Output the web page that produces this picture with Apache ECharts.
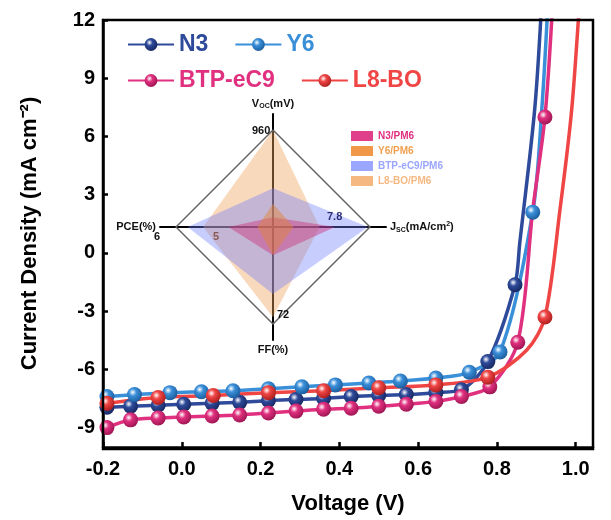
<!DOCTYPE html>
<html>
<head>
<meta charset="utf-8">
<script src="https://cdn.jsdelivr.net/npm/echarts@6/dist/echarts.min.js"></script>
<style>
  html, body { margin: 0; padding: 0; background: #fff; }
  #main { width: 611px; height: 520px; }
</style>
</head>
<body>
<div id="main"></div>
<script>
// J-V curves (V in volts, J in mA cm^-2)
// marked points
const n3V = [-0.19, -0.13, -0.06, 0.005, 0.077, 0.147, 0.22, 0.29, 0.36, 0.43, 0.50, 0.57, 0.645, 0.71, 0.777, 0.846];
const n3J = [-7.95, -7.9, -7.85, -7.8, -7.75, -7.7, -7.6, -7.55, -7.5, -7.4, -7.35, -7.3, -7.2, -7.05, -5.6, -1.64];
// points on the line without a marker
const n3LineV = [0.858, 0.896, 0.914];
const n3LineJ = [0.5, 7.4, 13];

const y6V = [-0.19, -0.12, -0.03, 0.05, 0.13, 0.22, 0.305, 0.39, 0.475, 0.555, 0.645, 0.73, 0.808, 0.891];
const y6J = [-7.4, -7.3, -7.2, -7.15, -7.1, -7.0, -6.9, -6.8, -6.7, -6.6, -6.45, -6.15, -5.1, 2.1];
const y6LineV = [0.914, 0.93];
const y6LineJ = [7.4, 13];

const ec9V = [-0.19, -0.13, -0.06, 0.005, 0.077, 0.147, 0.22, 0.29, 0.36, 0.43, 0.50, 0.57, 0.645, 0.71, 0.782, 0.853, 0.922];
const ec9J = [-9.0, -8.6, -8.5, -8.45, -8.4, -8.35, -8.25, -8.15, -8.05, -8.0, -7.9, -7.8, -7.65, -7.4, -6.9, -4.6, 7.0];
const ec9LineV = [0.891, 0.942];
const ec9LineJ = [2.2, 13];

const l8V = [-0.19, -0.06, 0.08, 0.22, 0.36, 0.50, 0.645, 0.777, 0.922];
const l8J = [-7.75, -7.45, -7.35, -7.2, -7.1, -6.95, -6.8, -6.4, -3.3];
const l8LineV = [0.876, 0.96, 0.99, 1.01];
const l8LineJ = [-5.0, 2.2, 7.4, 13];

const xTicks = [-0.2, 0.0, 0.2, 0.4, 0.6, 0.8, 1.0];
const yTicks = [-9, -6, -3, 0, 3, 6, 9, 12];

// radar inset, values as fraction of the outer diamond (Voc, PCE, FF, Jsc)
const radarNames = ['N3/PM6', 'Y6/PM6', 'BTP-eC9/PM6', 'L8-BO/PM6'];
const radarN3 = [0.10, 0.46, 0.29, 0.64];
const radarY6 = [0.24, 0.16, 0.29, 0.21];
const radarEC9 = [0.40, 0.88, 0.69, 0.98];
const radarL8 = [1.0, 0.72, 0.93, 0.48];
const radarFrame = [1, 1, 1, 1];

const FONT = 'Liberation Sans';

function ball(c, dark) {
  return {
    type: 'radial', x: 0.38, y: 0.35, r: 0.7,
    colorStops: [
      { offset: 0, color: '#ffffff' },
      { offset: 0.35, color: c },
      { offset: 1, color: dark }
    ]
  };
}

function points(vs, js, lv, lj) {
  const d = vs.map((v, i) => ({ value: [v, js[i]] }));
  lv.forEach((v, i) => d.push({ value: [v, lj[i]], symbol: 'none' }));
  d.sort((a, b) => a.value[0] - b.value[0]);
  return d;
}

function jvSeries(name, color, dark, data) {
  return {
    name: name, type: 'line', data: data, smooth: 0.3,
    symbol: 'circle', symbolSize: 15,
    lineStyle: { color: color, width: 3.5 },
    itemStyle: { color: ball(color, dark) },
    clip: true, z: 3
  };
}

const chart = echarts.init(document.getElementById('main'));

const option = {
  animation: false,
  grid: { left: 103, right: 18, top: 20, bottom: 71 },
  xAxis: {
    type: 'value', min: -0.2, max: 1.044,
    name: 'Voltage (V)', nameLocation: 'middle', nameGap: 46,
    nameTextStyle: { fontFamily: FONT, fontWeight: 'bold', fontSize: 22, color: '#000' },
    axisLine: { onZero: false, lineStyle: { color: '#000', width: 2.5 } },
    axisTick: { inside: true, length: 5, lineStyle: { width: 2.5 }, customValues: xTicks },
    axisLabel: { customValues: xTicks, formatter: v => v.toFixed(1), fontFamily: FONT, fontWeight: 'bold', fontSize: 20, color: '#000', margin: 12 },
    splitLine: { show: false }
  },
  yAxis: {
    type: 'value', min: -10, max: 12,
    name: 'Current Density (mA cm⁻²)', nameLocation: 'middle', nameGap: 62,
    nameTextStyle: { fontFamily: FONT, fontWeight: 'bold', fontSize: 22, color: '#000' },
    axisLine: { onZero: false, lineStyle: { color: '#000', width: 2.5 } },
    axisTick: { inside: true, length: 5, lineStyle: { width: 2.5 }, customValues: yTicks },
    axisLabel: { customValues: yTicks, fontFamily: FONT, fontWeight: 'bold', fontSize: 20, color: '#000', margin: 8 },
    splitLine: { show: false }
  },
  graphic: [
    { type: 'rect', shape: { x: 103, y: 20, width: 490, height: 429 }, style: { fill: 'none', stroke: '#000', lineWidth: 2.5 }, z: 10 },
    { type: 'text', left: 252, top: 125, style: { text: '960', font: 'bold 11px ' + FONT, fill: '#111' }, z: 20 },
    { type: 'text', left: 154, top: 231, style: { text: '6', font: 'bold 11px ' + FONT, fill: '#111' }, z: 20 },
    { type: 'text', left: 213, top: 231, style: { text: '5', font: 'bold 11px ' + FONT, fill: '#8a5a52' }, z: 20 },
    { type: 'text', left: 327, top: 211, style: { text: '7.8', font: 'bold 11px ' + FONT, fill: '#2d2d7a' }, z: 20 },
    { type: 'text', left: 277, top: 309, style: { text: '72', font: 'bold 11px ' + FONT, fill: '#111' }, z: 20 }
  ],
  legend: [
    {
      data: [
        { name: 'N3', textStyle: { color: '#2e4a9a' } },
        { name: 'Y6', textStyle: { color: '#3a8fd9' } }
      ],
      left: 122, top: 28, itemWidth: 46, itemHeight: 16, itemGap: 26,
      textStyle: { fontFamily: FONT, fontWeight: 'bold', fontSize: 23 }
    },
    {
      data: [
        { name: 'BTP-eC9', textStyle: { color: '#e0307f' } },
        { name: 'L8-BO', textStyle: { color: '#f04545' } }
      ],
      left: 122, top: 64, itemWidth: 46, itemHeight: 16, itemGap: 26,
      textStyle: { fontFamily: FONT, fontWeight: 'bold', fontSize: 23 }
    },
    {
      data: [
        { name: 'N3/PM6', textStyle: { color: '#e0307f' } },
        { name: 'Y6/PM6', textStyle: { color: '#f0a050' } },
        { name: 'BTP-eC9/PM6', textStyle: { color: '#9aa6ff' } },
        { name: 'L8-BO/PM6', textStyle: { color: '#f5b880' } }
      ],
      orient: 'vertical', left: 346, top: 126, itemWidth: 22, itemHeight: 10, itemGap: 5,
      icon: 'rect',
      textStyle: { fontFamily: FONT, fontWeight: 'bold', fontSize: 10 }
    }
  ],
  radar: {
    center: [273, 227], radius: 113, startAngle: 90, shape: 'polygon', splitNumber: 1,
    indicator: [
      { name: 'Voc', max: 1.165 },
      { name: 'PCE', max: 1.165 },
      { name: 'FF', max: 1.165 },
      { name: 'Jsc', max: 1.165 }
    ],
    axisName: {
      formatter: function (n) {
        if (n === 'Voc') return '{b|V}{s|OC}{b|(mV)}';
        if (n === 'Jsc') return '{b|J}{s|SC}{b|(mA/cm}{p|2}{b|)}';
        if (n === 'PCE') return '{b|PCE(%)}';
        return '{b|FF(%)}';
      },
      rich: {
        b: { fontFamily: FONT, fontWeight: 'bold', fontSize: 11, color: '#111' },
        s: { fontFamily: FONT, fontWeight: 'bold', fontSize: 7, color: '#111', verticalAlign: 'bottom', padding: [6, 0, 0, 0] },
        p: { fontFamily: FONT, fontWeight: 'bold', fontSize: 7, color: '#111', verticalAlign: 'top', padding: [0, 0, 6, 0] }
      }
    },
    nameGap: 4,
    axisLine: { lineStyle: { color: '#000', width: 2 } },
    splitLine: { show: false },
    splitArea: { show: false }
  },
  series: [
    jvSeries('N3', '#2e4a9a', '#16265e', points(n3V, n3J, n3LineV, n3LineJ)),
    jvSeries('Y6', '#3a8fd9', '#1a5a9a', points(y6V, y6J, y6LineV, y6LineJ)),
    jvSeries('BTP-eC9', '#e0307f', '#9a1450', points(ec9V, ec9J, ec9LineV, ec9LineJ)),
    jvSeries('L8-BO', '#f04545', '#a81c1c', points(l8V, l8J, l8LineV, l8LineJ)),
    {
      type: 'radar', symbol: 'none', z: 5,
      data: [
        { name: radarNames[3], value: radarL8, lineStyle: { width: 0 }, areaStyle: { color: 'rgba(240,165,95,0.6)' }, itemStyle: { color: '#f5b880' } },
        { name: radarNames[2], value: radarEC9, lineStyle: { width: 0 }, areaStyle: { color: 'rgba(110,125,250,0.55)' }, itemStyle: { color: '#9aa6ff' } },
        { name: radarNames[0], value: radarN3, lineStyle: { width: 0 }, areaStyle: { color: 'rgba(205,40,120,0.6)' }, itemStyle: { color: '#e0408a' } },
        { name: radarNames[1], value: radarY6, lineStyle: { width: 0 }, areaStyle: { color: 'rgba(225,130,60,0.7)' }, itemStyle: { color: '#f09848' } },
        { name: 'frame', value: radarFrame, lineStyle: { color: '#666', width: 1.5 }, areaStyle: { opacity: 0 } }
      ]
    }
  ]
};

chart.setOption(option);
</script>
</body>
</html>
